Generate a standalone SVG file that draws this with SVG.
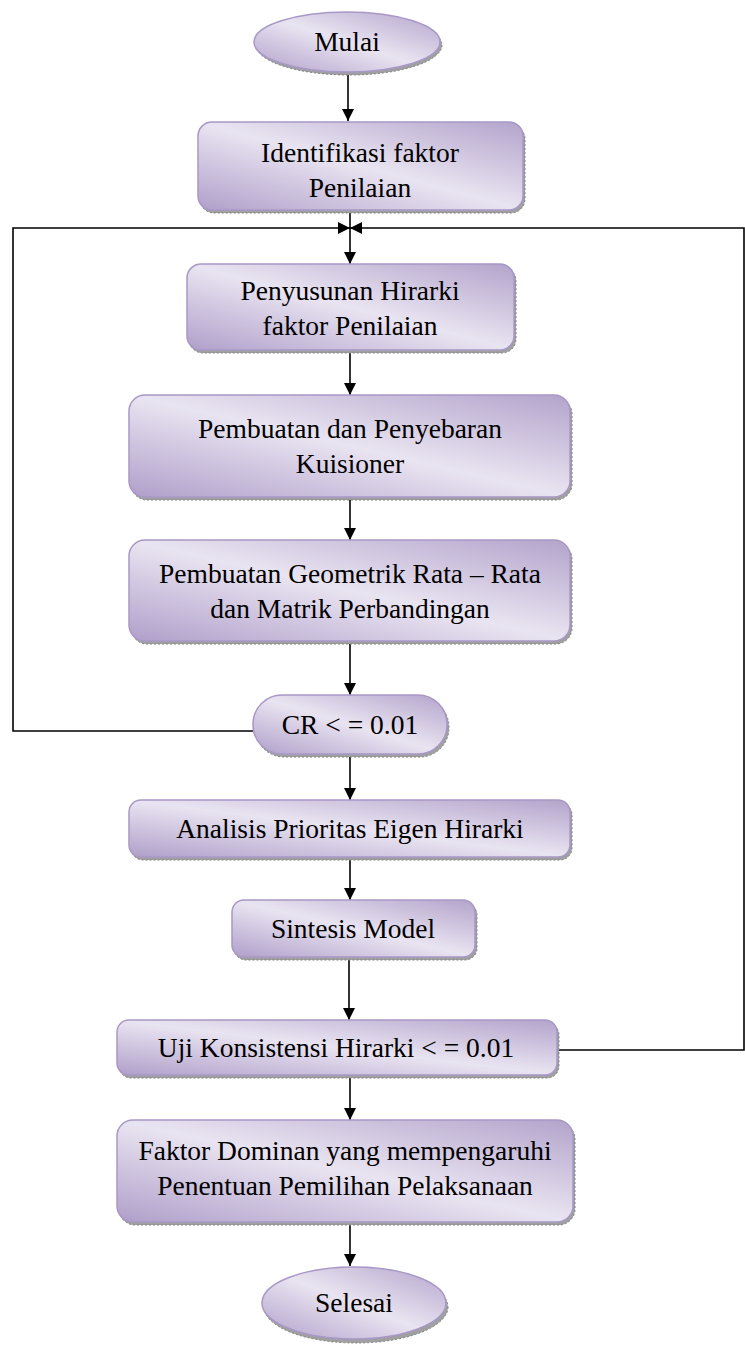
<svg xmlns="http://www.w3.org/2000/svg" width="745" height="1351" viewBox="0 0 745 1351">
<defs>
<linearGradient id="g" x1="0" y1="1" x2="1" y2="0">
<stop offset="0" stop-color="#b09fca"/>
<stop offset="0.5" stop-color="#e9e4f1"/>
<stop offset="1" stop-color="#b3a3cb"/>
</linearGradient>
<marker id="ah" viewBox="0 0 12 12" refX="12" refY="6" markerWidth="12" markerHeight="12" markerUnits="userSpaceOnUse" orient="auto">
<path d="M0,0 L12,6 L0,12 Z" fill="#000"/>
</marker>
</defs>
<style>
.sh{fill:#a0a0a0;stroke:#808080;stroke-width:1;stroke-dasharray:2 2}
.nd{fill:url(#g);stroke:#a898c6;stroke-width:1.5}
.t{font-family:"Liberation Serif","Times New Roman",Times,"DejaVu Serif",serif;font-size:27.5px;fill:#000;text-anchor:middle}
.c{stroke:#000;stroke-width:1.6;fill:none}
.ca{stroke:#000;stroke-width:1.6;fill:none;marker-end:url(#ah)}
</style>
<rect width="745" height="1351" fill="#fff"/>

<g id="connectors">
<line class="ca" x1="348" y1="72" x2="348" y2="121"/>
<line class="c" x1="350" y1="210" x2="350" y2="228"/>
<polyline class="ca" points="254,731 13,731 13,228 350,228"/>
<polyline class="ca" points="557,1050 744,1050 744,228 350,228"/>
<line class="ca" x1="350" y1="228" x2="350" y2="264"/>
<line class="ca" x1="350" y1="350" x2="350" y2="395"/>
<line class="ca" x1="350" y1="497" x2="350" y2="540"/>
<line class="ca" x1="350" y1="641" x2="350" y2="695"/>
<line class="ca" x1="350" y1="755" x2="350" y2="800"/>
<line class="ca" x1="350" y1="857" x2="350" y2="900"/>
<line class="ca" x1="349" y1="957" x2="349" y2="1020"/>
<line class="ca" x1="350" y1="1075" x2="350" y2="1120"/>
<line class="ca" x1="350" y1="1222" x2="350" y2="1266"/>
</g>

<g id="mulai">
<ellipse class="sh" cx="349" cy="45" rx="93" ry="30"/>
<ellipse class="nd" cx="347" cy="42" rx="93" ry="30"/>
<text class="t" x="347" y="51">Mulai</text>
</g>

<g id="identifikasi">
<rect class="sh" x="200" y="125" width="325" height="88" rx="14"/>
<rect class="nd" x="198" y="122" width="325" height="88" rx="14"/>
<text class="t" x="360" y="162">Identifikasi faktor</text>
<text class="t" x="360" y="197">Penilaian</text>
</g>

<g id="penyusunan">
<rect class="sh" x="189" y="267" width="327" height="86" rx="14"/>
<rect class="nd" x="187" y="264" width="327" height="86" rx="14"/>
<text class="t" x="350" y="300">Penyusunan Hirarki</text>
<text class="t" x="350" y="335">faktor Penilaian</text>
</g>

<g id="pembuatan">
<rect class="sh" x="131" y="398" width="441" height="102" rx="16"/>
<rect class="nd" x="129" y="395" width="441" height="102" rx="16"/>
<text class="t" x="350" y="438">Pembuatan dan Penyebaran</text>
<text class="t" x="350" y="473">Kuisioner</text>
</g>

<g id="geometrik">
<rect class="sh" x="131" y="543" width="441" height="101" rx="16"/>
<rect class="nd" x="129" y="540" width="441" height="101" rx="16"/>
<text class="t" x="350" y="583">Pembuatan Geometrik Rata – Rata</text>
<text class="t" x="350" y="618">dan Matrik Perbandingan</text>
</g>

<g id="cr">
<rect class="sh" x="255" y="698" width="194" height="59" rx="29"/>
<rect class="nd" x="253" y="695" width="194" height="59" rx="29"/>
<text class="t" x="350" y="734">CR &lt; = 0.01</text>
</g>

<g id="analisis">
<rect class="sh" x="131" y="803" width="441" height="57" rx="12"/>
<rect class="nd" x="129" y="800" width="441" height="57" rx="12"/>
<text class="t" x="350" y="838">Analisis Prioritas Eigen Hirarki</text>
</g>

<g id="sintesis">
<rect class="sh" x="234" y="903" width="243" height="57" rx="12"/>
<rect class="nd" x="232" y="900" width="243" height="57" rx="12"/>
<text class="t" x="353" y="938">Sintesis Model</text>
</g>

<g id="uji">
<rect class="sh" x="119" y="1023" width="440" height="55" rx="12"/>
<rect class="nd" x="117" y="1020" width="440" height="55" rx="12"/>
<text class="t" x="336" y="1057">Uji Konsistensi Hirarki &lt; = 0.01</text>
</g>

<g id="faktor">
<rect class="sh" x="119" y="1123" width="456" height="102" rx="16"/>
<rect class="nd" x="117" y="1120" width="456" height="102" rx="16"/>
<text class="t" x="345" y="1160">Faktor Dominan yang mempengaruhi</text>
<text class="t" x="345" y="1195">Penentuan Pemilihan Pelaksanaan</text>
</g>

<g id="selesai">
<ellipse class="sh" cx="356" cy="1307" rx="92" ry="36"/>
<ellipse class="nd" cx="354" cy="1303" rx="92" ry="36"/>
<text class="t" x="354" y="1312">Selesai</text>
</g>
</svg>
